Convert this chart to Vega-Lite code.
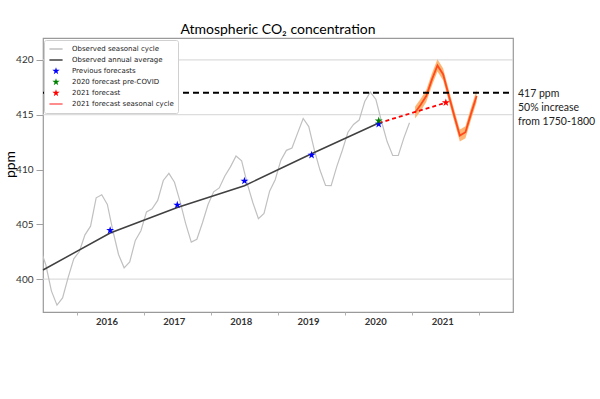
{
  "$schema": "https://vega.github.io/schema/vega-lite/v6.json",
  "autosize": "none",
  "padding": {"left": 43, "top": 38, "right": 87, "bottom": 87},
  "width": 470,
  "height": 274,
  "background": "white",
  "title": {"text": "Atmospheric CO₂ concentration", "font": "Lato", "fontSize": 14, "fontWeight": "normal", "color": "#000000", "anchor": "middle", "offset": 1},
  "config": {
    "view": {"stroke": "#9a9a9a", "strokeWidth": 1.2},
    "axis": {"grid": false, "domain": false}
  },
  "datasets": {
    "grid": [{"v": 400}, {"v": 415}, {"v": 420}],
    "monthly": [
      {"t": 2015.4583, "v": 402.80}, {"t": 2015.5417, "v": 401.31}, {"t": 2015.625, "v": 398.93}, {"t": 2015.7083, "v": 397.63}, {"t": 2015.7917, "v": 398.29}, {"t": 2015.875, "v": 400.16}, {"t": 2015.9583, "v": 401.85},
      {"t": 2016.0417, "v": 402.52}, {"t": 2016.125, "v": 404.04}, {"t": 2016.2083, "v": 404.83}, {"t": 2016.2917, "v": 407.42}, {"t": 2016.375, "v": 407.70}, {"t": 2016.4583, "v": 406.81}, {"t": 2016.5417, "v": 404.39}, {"t": 2016.625, "v": 402.25}, {"t": 2016.7083, "v": 401.03}, {"t": 2016.7917, "v": 401.57}, {"t": 2016.875, "v": 403.53}, {"t": 2016.9583, "v": 404.42},
      {"t": 2017.0417, "v": 406.13}, {"t": 2017.125, "v": 406.42}, {"t": 2017.2083, "v": 407.18}, {"t": 2017.2917, "v": 409.00}, {"t": 2017.375, "v": 409.65}, {"t": 2017.4583, "v": 408.84}, {"t": 2017.5417, "v": 407.07}, {"t": 2017.625, "v": 405.07}, {"t": 2017.7083, "v": 403.38}, {"t": 2017.7917, "v": 403.64}, {"t": 2017.875, "v": 405.14}, {"t": 2017.9583, "v": 406.81},
      {"t": 2018.0417, "v": 407.96}, {"t": 2018.125, "v": 408.32}, {"t": 2018.2083, "v": 409.41}, {"t": 2018.2917, "v": 410.24}, {"t": 2018.375, "v": 411.24}, {"t": 2018.4583, "v": 410.79}, {"t": 2018.5417, "v": 408.71}, {"t": 2018.625, "v": 406.99}, {"t": 2018.7083, "v": 405.51}, {"t": 2018.7917, "v": 406.00}, {"t": 2018.875, "v": 408.02}, {"t": 2018.9583, "v": 409.07},
      {"t": 2019.0417, "v": 410.83}, {"t": 2019.125, "v": 411.75}, {"t": 2019.2083, "v": 411.97}, {"t": 2019.2917, "v": 413.32}, {"t": 2019.375, "v": 414.66}, {"t": 2019.4583, "v": 413.92}, {"t": 2019.5417, "v": 411.77}, {"t": 2019.625, "v": 409.95}, {"t": 2019.7083, "v": 408.54}, {"t": 2019.7917, "v": 408.53}, {"t": 2019.875, "v": 410.27}, {"t": 2019.9583, "v": 411.76},
      {"t": 2020.0417, "v": 413.40}, {"t": 2020.125, "v": 414.11}, {"t": 2020.2083, "v": 414.51}, {"t": 2020.2917, "v": 416.21}, {"t": 2020.375, "v": 417.07}, {"t": 2020.4583, "v": 416.39}, {"t": 2020.5417, "v": 414.38}, {"t": 2020.625, "v": 412.55}, {"t": 2020.7083, "v": 411.29}, {"t": 2020.7917, "v": 411.28}, {"t": 2020.875, "v": 412.89}, {"t": 2020.9583, "v": 414.26}
    ],
    "annual": [
      {"t": 2015.5, "v": 400.83}, {"t": 2016.5, "v": 404.21}, {"t": 2017.5, "v": 406.53}, {"t": 2018.5, "v": 408.52}, {"t": 2019.5, "v": 411.44}, {"t": 2020.5, "v": 414.24}
    ],
    "forecastMonthly": [
      {"t": 2021.0417, "v": 415.2, "lo": 414.65, "hi": 415.75},
      {"t": 2021.125, "v": 415.9, "lo": 415.35, "hi": 416.45},
      {"t": 2021.2083, "v": 416.7, "lo": 416.15, "hi": 417.25},
      {"t": 2021.2917, "v": 418.2, "lo": 417.65, "hi": 418.75},
      {"t": 2021.375, "v": 419.5, "lo": 418.95, "hi": 420.05},
      {"t": 2021.4583, "v": 418.7, "lo": 418.15, "hi": 419.25},
      {"t": 2021.5417, "v": 416.8, "lo": 416.25, "hi": 417.35},
      {"t": 2021.625, "v": 414.9, "lo": 414.35, "hi": 415.45},
      {"t": 2021.7083, "v": 413.1, "lo": 412.55, "hi": 413.65},
      {"t": 2021.7917, "v": 413.4, "lo": 412.85, "hi": 413.95},
      {"t": 2021.875, "v": 415.1, "lo": 414.55, "hi": 415.65},
      {"t": 2021.9583, "v": 416.7, "lo": 416.15, "hi": 417.25}
    ],
    "forecastAnnual": [{"t": 2020.5, "v": 414.24}, {"t": 2021.5, "v": 416.1}],
    "ref": [{"t": 2015.5, "t2": 2022.5, "v": 417, "note": "417 ppm\n50% increase\nfrom 1750-1800"}],
    "stars": [
      {"t": 2016.5, "v": 404.45, "series": "Previous forecasts"},
      {"t": 2017.5, "v": 406.77, "series": "Previous forecasts"},
      {"t": 2018.5, "v": 408.96, "series": "Previous forecasts"},
      {"t": 2019.5, "v": 411.32, "series": "Previous forecasts"},
      {"t": 2020.5, "v": 414.15, "series": "Previous forecasts"},
      {"t": 2020.5, "v": 414.45, "series": "2020 forecast pre-COVID"},
      {"t": 2021.5, "v": 416.1, "series": "2021 forecast"}
    ]
  },
  "layer": [
    {
      "data": {"name": "grid"},
      "mark": {"type": "rule", "color": "#d4d4d4", "strokeWidth": 1},
      "encoding": {
        "y": {"field": "v", "type": "quantitative", "scale": {"domain": [397, 422], "nice": false, "zero": false},
          "axis": {"values": [400, 405, 410, 415, 420], "title": "ppm", "tickSize": 7, "tickColor": "#a0a0a0", "labelFont": "Lato", "labelFontSize": 10, "labelColor": "#333333", "labelPadding": 3,
            "titleFont": "Lato", "titleFontSize": 14, "titleFontWeight": "normal", "titleColor": "#000000", "titleX": -33, "titleY": 126, "titleAngle": -90, "titleAlign": "center", "titleBaseline": "middle"}}
      }
    },
    {
      "data": {"name": "monthly"},
      "mark": {"type": "line", "color": "#c0c0c0", "strokeWidth": 1.2, "clip": true},
      "encoding": {
        "x": {"field": "t", "type": "quantitative", "title": null, "scale": {"domain": [2015.5, 2022.5], "nice": false, "zero": false},
          "axis": {"values": [2016, 2017, 2018, 2019, 2020, 2021, 2022], "format": "d", "labelExpr": "datum.value >= 2022 ? '' : datum.label", "labelOffset": 30, "labelFlush": false, "labelOverlap": false, "labelBound": false, "tickSize": 3, "tickColor": "#b0b0b0", "labelFont": "Lato", "labelFontSize": 9.5, "labelFontWeight": "bold", "labelColor": "#333333", "labelPadding": 1, "title": null}},
        "y": {"field": "v", "type": "quantitative"}
      }
    },
    {
      "data": {"name": "annual"},
      "mark": {"type": "line", "color": "#404040", "strokeWidth": 1.5},
      "encoding": {
        "x": {"field": "t", "type": "quantitative", "title": null},
        "y": {"field": "v", "type": "quantitative"}
      }
    },
    {
      "data": {"name": "forecastMonthly"},
      "mark": {"type": "area", "color": "#ffae66", "opacity": 0.9},
      "encoding": {
        "x": {"field": "t", "type": "quantitative", "title": null},
        "y": {"field": "lo", "type": "quantitative"},
        "y2": {"field": "hi"}
      }
    },
    {
      "data": {"name": "forecastMonthly"},
      "mark": {"type": "line", "color": "#ff4a1c", "strokeWidth": 1.8},
      "encoding": {
        "x": {"field": "t", "type": "quantitative", "title": null},
        "y": {"field": "v", "type": "quantitative"}
      }
    },
    {
      "data": {"name": "forecastAnnual"},
      "mark": {"type": "line", "color": "#ff0000", "strokeWidth": 1.8, "strokeDash": [4, 3]},
      "encoding": {
        "x": {"field": "t", "type": "quantitative", "title": null},
        "y": {"field": "v", "type": "quantitative"}
      }
    },
    {
      "data": {"name": "ref"},
      "mark": {"type": "rule", "color": "#000000", "strokeWidth": 2, "strokeDash": [6, 4]},
      "encoding": {
        "x": {"field": "t", "type": "quantitative", "title": null},
        "x2": {"field": "t2"},
        "y": {"field": "v", "type": "quantitative"}
      }
    },
    {
      "data": {"name": "ref"},
      "mark": {"type": "text", "align": "left", "baseline": "alphabetic", "dx": 5, "dy": 4, "font": "Lato", "fontSize": 10.5, "color": "#222222", "lineBreak": "\n", "lineHeight": 14, "clip": false},
      "encoding": {
        "x": {"field": "t2", "type": "quantitative", "title": null},
        "y": {"field": "v", "type": "quantitative"},
        "text": {"field": "note"}
      }
    },
    {
      "data": {"name": "stars"},
      "mark": {"type": "point", "filled": true, "size": 70, "opacity": 1},
      "encoding": {
        "x": {"field": "t", "type": "quantitative", "title": null},
        "y": {"field": "v", "type": "quantitative"},
        "color": {"field": "series", "type": "nominal",
          "scale": {"domain": ["Observed seasonal cycle", "Observed annual average", "Previous forecasts", "2020 forecast pre-COVID", "2021 forecast", "2021 forecast seasonal cycle"],
            "range": ["#c0c0c0", "#404040", "#0000ff", "#008000", "#ff0000", "#ff6666"]},
          "legend": {"title": null, "orient": "none", "legendX": 1, "legendY": 2, "fillColor": "#ffffff", "strokeColor": "#d0d0d0", "cornerRadius": 2, "padding": 4, "labelFont": "DejaVu Sans", "labelFontSize": 7, "labelColor": "#222222", "symbolSize": 60, "symbolStrokeWidth": 1.5, "symbolOffset": 3, "labelOffset": 11, "rowPadding": 1, "clipHeight": 10, "symbolOpacity": 1,
            "encode": {"symbols": {"update": {"fill": {"signal": "scale('color', datum.value)"}, "stroke": {"signal": "indexof(['Previous forecasts','2020 forecast pre-COVID','2021 forecast'], datum.value) >= 0 ? 'transparent' : scale('color', datum.value)"}}}}}},
        "shape": {"field": "series", "type": "nominal",
          "scale": {"domain": ["Observed seasonal cycle", "Observed annual average", "Previous forecasts", "2020 forecast pre-COVID", "2021 forecast", "2021 forecast seasonal cycle"],
            "range": ["M-1.7,0L1.7,0", "M-1.7,0L1.7,0", "M0,-1L0.225,-0.309L0.951,-0.309L0.363,0.118L0.588,0.809L0,0.382L-0.588,0.809L-0.363,0.118L-0.951,-0.309L-0.225,-0.309Z", "M0,-1L0.225,-0.309L0.951,-0.309L0.363,0.118L0.588,0.809L0,0.382L-0.588,0.809L-0.363,0.118L-0.951,-0.309L-0.225,-0.309Z", "M0,-1L0.225,-0.309L0.951,-0.309L0.363,0.118L0.588,0.809L0,0.382L-0.588,0.809L-0.363,0.118L-0.951,-0.309L-0.225,-0.309Z", "M-1.7,0L1.7,0"]},
          "legend": {"title": null, "orient": "none", "legendX": 1, "legendY": 2, "fillColor": "#ffffff", "strokeColor": "#d0d0d0", "cornerRadius": 2, "padding": 4, "labelFont": "DejaVu Sans", "labelFontSize": 7, "labelColor": "#222222", "symbolSize": 60, "symbolStrokeWidth": 1.5, "symbolOffset": 3, "labelOffset": 11, "rowPadding": 1, "clipHeight": 10, "symbolOpacity": 1,
            "encode": {"symbols": {"update": {"fill": {"signal": "scale('color', datum.value)"}, "stroke": {"signal": "indexof(['Previous forecasts','2020 forecast pre-COVID','2021 forecast'], datum.value) >= 0 ? 'transparent' : scale('color', datum.value)"}}}}}}
      }
    }
  ]
}
